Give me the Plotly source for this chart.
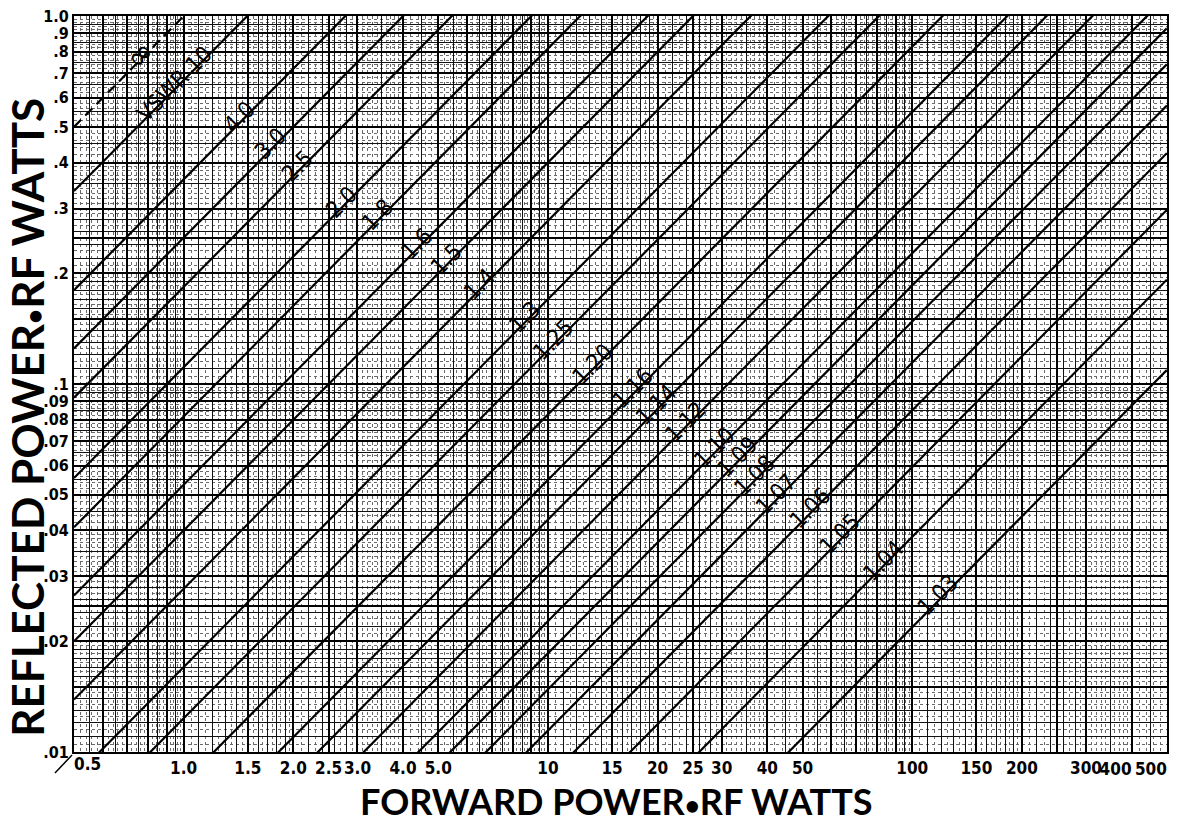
import math
import plotly.graph_objects as go

# ---------------- data ----------------
vswr_values = [math.inf, 10, 4.0, 3.0, 2.5, 2.0, 1.8, 1.6, 1.5, 1.4, 1.3, 1.25, 1.20,
               1.16, 1.14, 1.12, 1.10, 1.09, 1.08, 1.07, 1.06, 1.05, 1.04, 1.03]
vswr_labels = ["∞", "VSWR 10", "4.0", "3.0", "2.5", "2.0", "1.8", "1.6", "1.5", "1.4", "1.3",
               "1.25", "1.20", "1.16", "1.14", "1.12", "1.10", "1.09", "1.08", "1.07", "1.06",
               "1.05", "1.04", "1.03"]
# forward power (W) at which each label sits on its line
label_forward = [0.769, 0.959, 1.447, 1.77, 2.09, 2.76, 3.46, 4.43, 5.36, 6.60, 8.78, 10.5,
                 13.5, 17.4, 20.2, 24.2, 29.2, 33.6, 37.6, 43.1, 53.3, 64.4, 84.5, 119.7]

forward_range = [0.5, 500]
reflected_range = [0.01, 1.0]

x_tick_vals = [0.5, 1.0, 1.5, 2.0, 2.5, 3.0, 4.0, 5.0, 10, 15, 20, 25, 30, 40, 50,
               100, 150, 200, 300, 400, 500]
x_tick_text = ["0.5", "1.0", "1.5", "2.0", "2.5", "3.0", "4.0", "5.0", "10", "15", "20", "25",
               "30", "40", "50", "100", "150", "200", "300", "400", "500"]
y_tick_vals = [1.0, 0.9, 0.8, 0.7, 0.6, 0.5, 0.4, 0.3, 0.2, 0.1, 0.09, 0.08, 0.07, 0.06,
               0.05, 0.04, 0.03, 0.02, 0.01]
y_tick_text = ["1.0", ".9", ".8", ".7", ".6", ".5", ".4", ".3", ".2", ".1", ".09", ".08",
               ".07", ".06", ".05", ".04", ".03", ".02", ".01"]

# log-paper grid mantissas (per decade)
grid_heavy = [1, 1.5, 2, 2.5, 3, 4, 5, 6, 7, 8, 9]
grid_medium = [1.1, 1.2, 1.3, 1.4, 1.6, 1.7, 1.8, 1.9, 2.2, 2.4, 2.6, 2.8, 3.5, 4.5,
               5.5, 6.5, 7.5, 8.5, 9.5]
grid_fine = [1.05, 1.15, 1.25, 1.35, 1.45, 1.55, 1.65, 1.75, 1.85, 1.95,
             2.1, 2.3, 2.7, 2.9, 3.1, 3.2, 3.3, 3.4, 3.6, 3.7, 3.8, 3.9,
             4.2, 4.4, 4.6, 4.8, 5.2, 5.4, 5.6, 5.8,
             6.2, 6.4, 6.6, 6.8, 7.2, 7.4, 7.6, 7.8, 8.2, 8.4, 8.6, 8.8,
             9.2, 9.4, 9.6, 9.8]


def expand(mants, lo, hi):
    out = []
    for k in range(-3, 4):
        for m in mants:
            v = m * 10 ** k
            if lo * 0.999 <= v <= hi * 1.001:
                out.append(v)
    return out


def refl_coeff_sq(s):
    if math.isinf(s):
        return 1.0
    r = (s - 1) / (s + 1)
    return r * r


XR = [math.log10(forward_range[0]), math.log10(forward_range[1]) + 0.0004]
YR = [math.log10(reflected_range[0]), math.log10(reflected_range[1]) + 0.0004]

tick_font = dict(family="Liberation Sans Narrow, DejaVu Sans Condensed, sans-serif",
                 size=17, color="black", weight="bold")

fig = go.Figure()


def add_dummy(i):
    fig.add_trace(go.Scatter(x=[forward_range[0]], y=[reflected_range[0]], mode="markers",
                             marker=dict(opacity=0), showlegend=False, hoverinfo="skip",
                             xaxis=f"x{i}", yaxis=f"y{i}"))


# ---------- grid overlay axes (fine, medium, heavy) ----------
grid_levels = [
    (grid_fine, dict(gridcolor="#6a6a6a", gridwidth=0.7, griddash="dot")),
    (grid_medium, dict(gridcolor="#111111", gridwidth=0.9)),
    (grid_heavy, dict(gridcolor="#000000", gridwidth=1.6)),
]
for i, (mants, style) in enumerate(grid_levels, start=2):
    xs = expand(mants, *forward_range)
    ys = expand(mants, *reflected_range)
    add_dummy(i)
    fig.layout[f"xaxis{i}"] = dict(type="log", overlaying="x", anchor=f"y{i}", range=XR,
                                   tickmode="array", tickvals=xs, showticklabels=False, ticks="",
                                   showgrid=True, zeroline=False, showline=False,
                                   automargin=False, **style)
    fig.layout[f"yaxis{i}"] = dict(type="log", overlaying="y", anchor=f"x{i}", range=YR,
                                   tickmode="array", tickvals=ys, showticklabels=False, ticks="",
                                   showgrid=True, zeroline=False, showline=False,
                                   automargin=False, **style)

# ---------- end tick labels: first sits right of its tick, last two sit left ----------
for i, (vals, texts, pos) in enumerate([
        (x_tick_vals[:1], x_tick_text[:1], "outside right"),
        (x_tick_vals[-2:], x_tick_text[-2:], "outside left")], start=5):
    add_dummy(i)
    fig.layout[f"xaxis{i}"] = dict(type="log", overlaying="x", anchor="y", side="bottom",
                                   range=XR, tickmode="array", tickvals=vals, ticktext=texts,
                                   tickangle=0,
                                   ticklabelposition=pos, ticks="", showgrid=False,
                                   zeroline=False, showline=False, automargin=False,
                                   tickfont=tick_font, ticklabeloverflow="allow",
                                   ticklabelstandoff=(0 if pos == "outside right" else 5))
    fig.layout[f"yaxis{i}"] = dict(type="log", overlaying="y", anchor=f"x{i}", range=YR,
                                   showticklabels=False, ticks="", showgrid=False,
                                   zeroline=False, showline=False, automargin=False)

# ---------- VSWR lines ----------
for s, lab in zip(vswr_values, vswr_labels):
    k = refl_coeff_sq(s)
    fig.add_trace(go.Scatter(
        x=forward_range, y=[k * forward_range[0], k * forward_range[1]],
        mode="lines", line=dict(color="black", width=2.2,
                                dash="10px,6px" if math.isinf(s) else "solid"),
        showlegend=False, hoverinfo="skip"))

# ---------- labels on lines ----------
label_font = dict(family="Liberation Sans Narrow, DejaVu Sans Condensed, sans-serif",
                  size=23, color="black")
for s, lab, f in zip(vswr_values, vswr_labels, label_forward):
    k = refl_coeff_sq(s)
    fnt = dict(label_font, size=34) if math.isinf(s) else label_font
    fig.add_annotation(x=math.log10(f), y=math.log10(k * f), xref="x", yref="y",
                       text=lab, showarrow=False, textangle=-45,
                       xanchor="center", yanchor="middle", xshift=-3, yshift=3,
                       font=fnt)

# page body has an 8px default margin; size the figure so the plot area lands
# at x 74..1167, y 16..752 of the 1179x826 window
fig.update_layout(
    width=1171, height=818,
    margin=dict(l=66, r=12, t=8, b=74),
    paper_bgcolor="white", plot_bgcolor="white",
    showlegend=False,
    xaxis=dict(type="log", range=XR,
               tickmode="array", tickvals=x_tick_vals[1:-2], ticktext=x_tick_text[1:-2],
               tickangle=0,
               showgrid=False, zeroline=False, showline=True, linecolor="black",
               linewidth=2, mirror=True, ticks="", tickfont=tick_font, automargin=False,
               ticklabeloverflow="allow"),
    yaxis=dict(type="log", range=YR,
               tickmode="array", tickvals=y_tick_vals, ticktext=y_tick_text,
               showgrid=False, zeroline=False, showline=True, linecolor="black",
               linewidth=2, mirror=True, ticks="", tickfont=dict(tick_font, size=16),
               automargin=False, ticklabeloverflow="allow"),
)

title_font = dict(family="Lato, Open Sans, sans-serif", size=36, color="black", weight="bold")
bullet = '<span style="font-size:26px">•</span>'
fig.add_annotation(text=f"FORWARD POWER{bullet}RF WATTS", xref="paper", yref="paper",
                   x=0.496, y=-0.066, xanchor="center", yanchor="middle",
                   showarrow=False, font=title_font)
fig.add_annotation(text=f"REFLECTED POWER{bullet}RF WATTS", xref="paper", yref="paper",
                   x=-0.043, y=0.454, xanchor="center", yanchor="middle", textangle=-90,
                   showarrow=False, font=dict(title_font, size=44))

# small corner mark
fig.add_shape(type="line", xref="paper", yref="paper", x0=-0.0174, y0=-0.0285,
              x1=-0.0018, y1=-0.0041, line=dict(color="black", width=1.5))

fig.write_html("out.html")
